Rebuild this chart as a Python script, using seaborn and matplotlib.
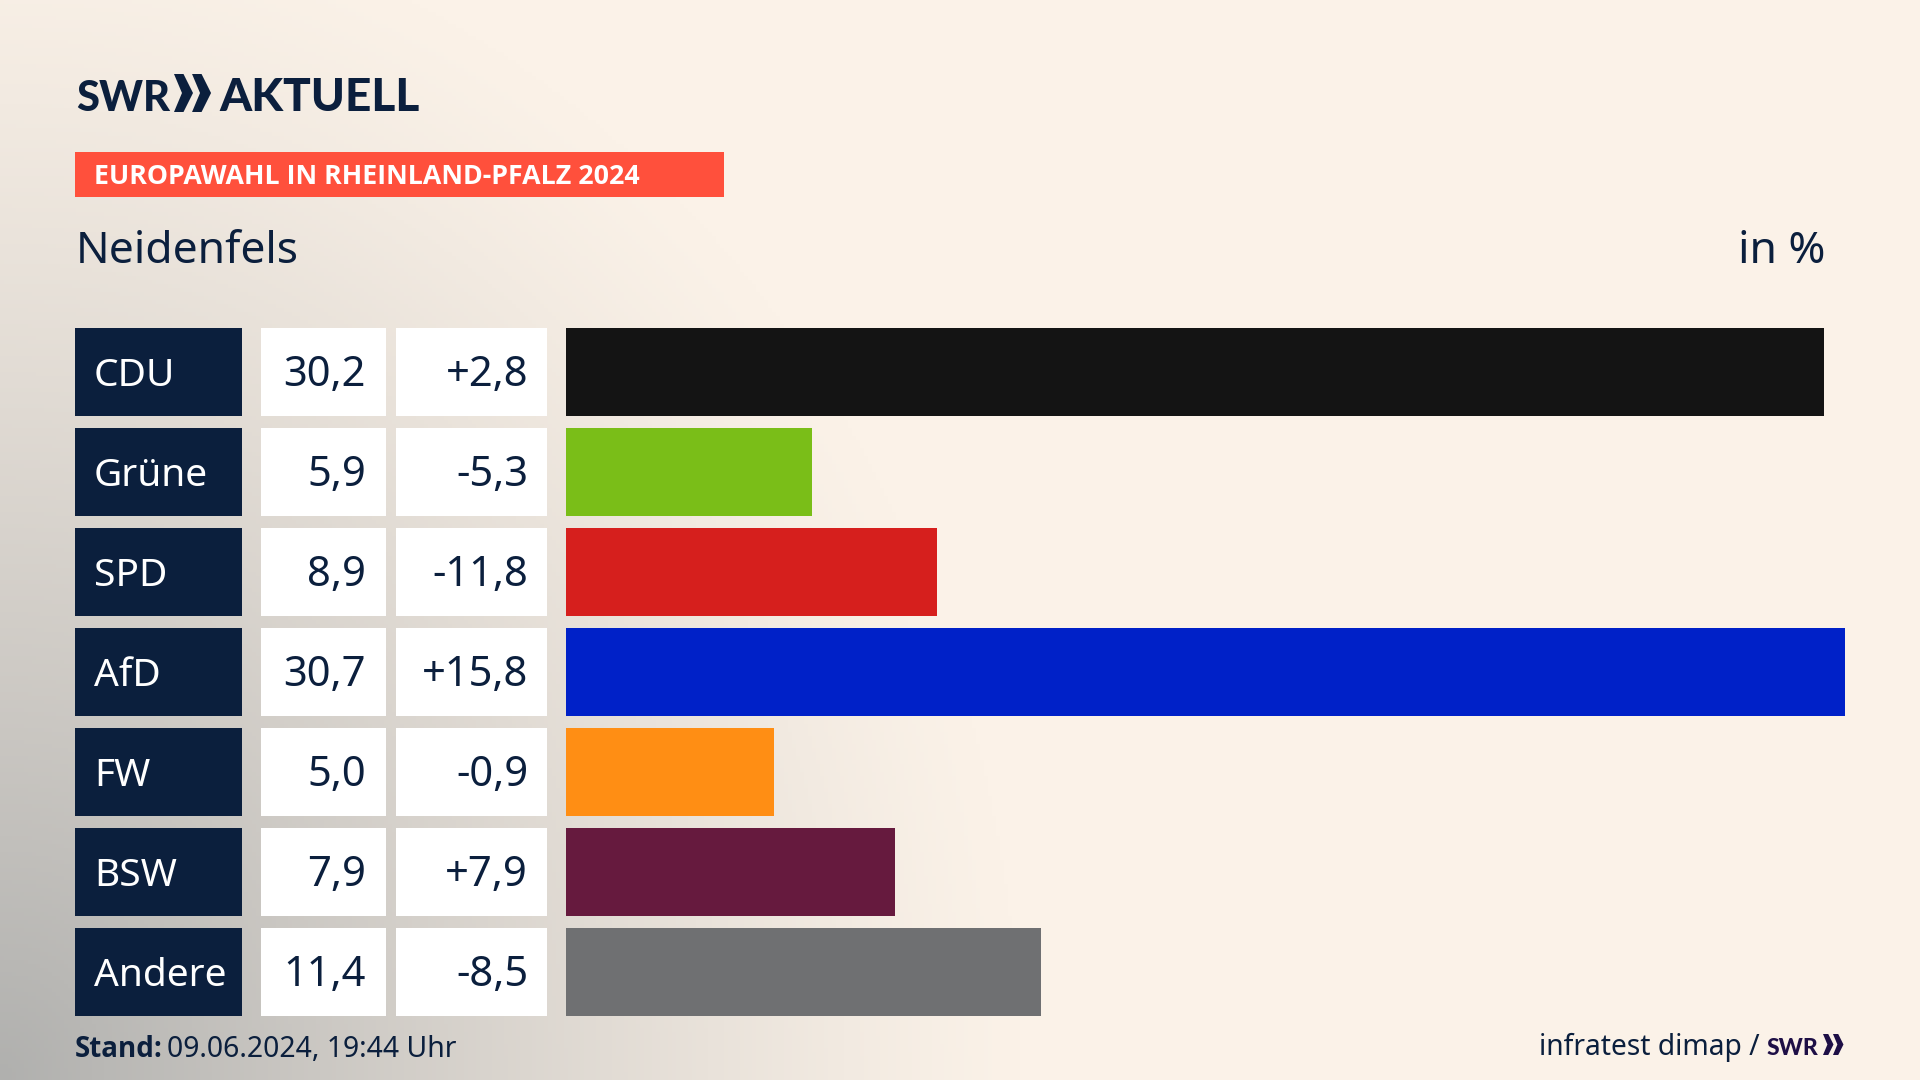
import numpy as np
import pandas as pd
import matplotlib
matplotlib.use('Agg')
import matplotlib.pyplot as plt
from matplotlib.patches import Rectangle, Polygon
import seaborn as sns

parties = ['CDU', 'Grüne', 'SPD', 'AfD', 'FW', 'BSW', 'Andere']
shares = [30.2, 5.9, 8.9, 30.7, 5.0, 7.9, 11.4]
changes = ['+2,8', '-5,3', '-11,8', '+15,8', '-0,9', '+7,9', '-8,5']
colors = ['#141414', '#7ABE18', '#D61F1D', '#0021C8', '#FF8E14', '#661A3E', '#6F7072']

NAVY = '#0B1F3D'
FONT = 'Noto Sans'
BOLD = 'Open Sans'
LOGO = 'Lato'
W, H = 1920, 1080
ROW_TOP, ROW_PITCH, ROW_H = 328, 100, 88

sns.set_theme(style='white')
plt.rcParams['font.family'] = [FONT, 'DejaVu Sans']

fig = plt.figure(figsize=(W / 100, H / 100), dpi=100)

# page layer in pixel coordinates, y pointing down
ui = fig.add_axes([0, 0, 1, 1])
ui.set_xlim(0, W)
ui.set_ylim(H, 0)
ui.axis('off')

# grey glow out of the bottom left corner
yy, xx = np.mgrid[0:H:270j, 0:W:480j]
dist = np.sqrt((xx / 1020) ** 2 + ((H - yy) / 1180) ** 2)
t = np.clip(1 - dist, 0, 1)[..., None] ** 1.2
cream = np.array([251, 242, 232]) / 255
grey = np.array([176, 176, 174]) / 255
ui.imshow(cream * (1 - t) + grey * t, extent=[0, W, H, 0], aspect='auto', zorder=0)
ui.set_xlim(0, W)
ui.set_ylim(H, 0)


def chevrons(x, y, h, color):
    # the two SWR arrows
    w = h * 0.5
    for dx in (0, w * 0.95):
        ui.add_patch(Polygon([(x + dx, y), (x + dx + w * 0.5, y), (x + dx + w, y + h / 2),
                              (x + dx + w * 0.5, y + h), (x + dx, y + h),
                              (x + dx + w * 0.42, y + h / 2)],
                             closed=True, fc=color, ec='none', zorder=3))


# logo
ui.text(76, 111, 'SWR', fontsize=30, fontweight='black', color=NAVY, va='baseline', family=LOGO)
chevrons(174, 74, 38, NAVY)
ui.text(219, 111, 'AKTUELL', fontsize=33, fontweight='black', color=NAVY, va='baseline', family=LOGO)

# red tag
ui.add_patch(Rectangle((75, 152), 649, 45, fc='#FF503C', ec='none', zorder=2))
ui.text(94, 184, 'EUROPAWAHL IN RHEINLAND-PFALZ 2024', fontsize=19.3, fontweight='bold',
        color='white', va='baseline', zorder=3, family=BOLD)

ui.text(76, 263, 'Neidenfels', fontsize=32, color=NAVY, va='baseline')
ui.text(1825, 263, 'in %', fontsize=32, color=NAVY, va='baseline', ha='right')

# table columns left of the bars
for i, (party, share, change) in enumerate(zip(parties, shares, changes)):
    top = ROW_TOP + i * ROW_PITCH
    mid = top + ROW_H / 2
    ui.add_patch(Rectangle((75, top), 167, ROW_H, fc=NAVY, ec='none', zorder=2))
    ui.add_patch(Rectangle((261, top), 125, ROW_H, fc='white', ec='none', zorder=2))
    ui.add_patch(Rectangle((396, top), 151, ROW_H, fc='white', ec='none', zorder=2))
    ui.text(94, mid + 14, party, fontsize=28, color='white', va='baseline', zorder=3)
    ui.text(366, mid + 14, f'{share:.1f}'.replace('.', ','), fontsize=30, color=NAVY,
            va='baseline', ha='right', zorder=3)
    ui.text(528, mid + 14, change, fontsize=30, color=NAVY, va='baseline', ha='right', zorder=3)

# footer
ui.text(75, 1057, 'Stand:', fontsize=20, fontweight='bold', color=NAVY, va='baseline', family=BOLD)
ui.text(167, 1057, '09.06.2024, 19:44 Uhr', fontsize=20.4, color=NAVY, va='baseline')
ui.text(1760, 1055, 'infratest dimap /', fontsize=20.3, color=NAVY, va='baseline', ha='right')
ui.text(1767, 1055, 'SWR', fontsize=16.5, fontweight='black', color='#1E0F46', va='baseline', family=LOGO)
chevrons(1823, 1034, 21, '#1E0F46')

# bars
df = pd.DataFrame({'partei': parties, 'anteil': shares})
bar_left, bar_right = 566, 1845
bar_top, bar_bottom = ROW_TOP - (ROW_PITCH - ROW_H) / 2, ROW_TOP + 7 * ROW_PITCH - (ROW_PITCH - ROW_H) / 2
ax = fig.add_axes([bar_left / W, 1 - bar_bottom / H, (bar_right - bar_left) / W, (bar_bottom - bar_top) / H])
sns.barplot(data=df, y='partei', x='anteil', hue='partei', palette=colors, order=parties,
            hue_order=parties, width=ROW_H / ROW_PITCH, saturation=1, legend=False, linewidth=0, ax=ax)
ax.set_xlim(0, max(shares))
ax.set_ylim(6.5, -0.5)
ax.axis('off')
ax.patch.set_alpha(0)

fig.savefig('out.png', dpi=100)
